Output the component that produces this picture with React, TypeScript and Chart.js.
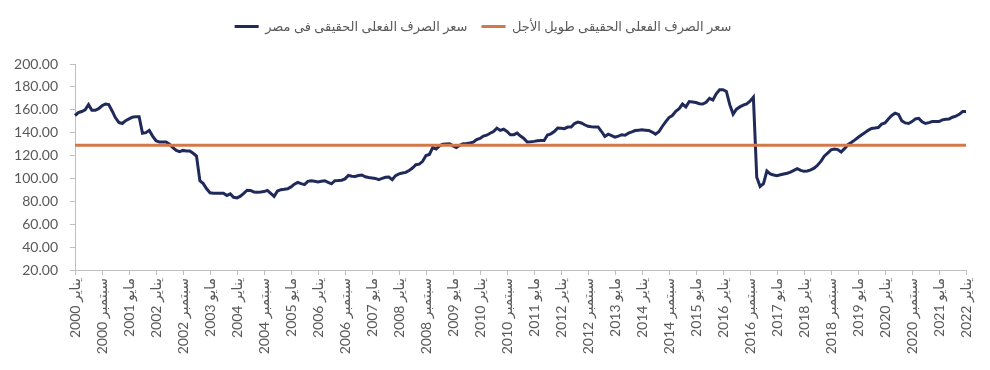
import React, { useEffect, useRef } from "react";
import { Chart, registerables } from "chart.js";

Chart.register(...registerables);

const monthNames = ["يناير", "فبراير", "مارس", "أبريل", "مايو", "يونيو", "يوليو", "أغسطس", "سبتمبر", "أكتوبر", "نوفمبر", "ديسمبر"];
const startYear = 2000;
const monthCount = 265;

const legendEgypt = "سعر الصرف الفعلى الحقيقى فى مصر";
const legendLongTerm = "سعر الصرف الفعلى الحقيقى طويل الأجل";

const y2000 = [155, 157.5, 158.5, 160, 164.5, 159.5, 159.5, 161, 163.5, 165, 164.5, 159];
const y2001 = [153, 149, 148, 150.5, 152, 153.5, 154, 154, 139.5, 140, 142, 137];
const y2002 = [133, 131.8, 131.8, 131.8, 130, 127, 124.5, 123.5, 124.5, 124, 124, 122];
const y2003 = [119.5, 98, 95.5, 91, 87.5, 87, 87, 87, 87, 85, 86.5, 83.5];
const y2004 = [83, 84.5, 87, 89.7, 89.5, 88.2, 88, 88.2, 88.5, 89.6, 87, 84.3];
const y2005 = [89, 90.2, 90.5, 91, 92.6, 95, 96.6, 95.5, 94.6, 97.5, 98, 97.5];
const y2006 = [97, 97.5, 98, 96.5, 95.3, 98, 98.2, 98.5, 99.6, 102.7, 102, 101.7];
const y2007 = [102.5, 103, 101.5, 100.8, 100.4, 100, 99, 100, 101, 101.3, 99, 102.5];
const y2008 = [104, 104.8, 105.3, 107, 109.1, 112, 112.5, 115, 120, 121, 127, 125.7];
const y2009 = [128.5, 130, 130.2, 130.3, 128.5, 127.1, 129, 130.3, 130.6, 131, 131.7, 134];
const y2010 = [135, 137, 137.8, 139.5, 141, 144, 142, 143, 141, 138.2, 138.2, 139.6];
const y2011 = [137, 135, 131.8, 132, 132.4, 133, 133.2, 133.2, 138, 139, 141, 144];
const y2012 = [143.8, 143.5, 144.9, 145, 148, 149.2, 148.5, 146.9, 145.6, 145.2, 145, 145];
const y2013 = [141, 136.7, 138.7, 137.5, 136.1, 137, 138.2, 137.8, 139.6, 140.7, 141.9, 142.2];
const y2014 = [142.5, 142.2, 141.9, 140.5, 138.7, 140.8, 145.4, 149.5, 153.2, 155, 158.7, 161];
const y2015 = [165, 162.5, 167.2, 166.8, 166.3, 165.3, 165, 166.6, 170, 168.6, 174, 177.5];
const y2016 = [177.5, 176, 164.5, 156.2, 160.5, 162.5, 164, 165.2, 167.5, 171, 101, 93];
const y2017 = [95.5, 106.5, 104, 103, 102.4, 103.2, 103.9, 104.6, 105.5, 107, 108.5, 107];
const y2018 = [106.2, 106.5, 107.5, 109, 111.5, 114.9, 119.5, 122, 125, 125.7, 125.2, 123.1];
const y2019 = [126, 129.5, 131.4, 133.5, 135.8, 138, 140, 142, 143.6, 144, 144.5, 147.5];
const y2020 = [148.5, 152, 155, 157, 156, 150.3, 148.5, 148, 149.7, 152, 152.5, 149.5];
const y2021 = [148, 148.8, 149.7, 149.7, 149.7, 151.2, 151.8, 152, 153.5, 154.5, 156, 158.5];
const y2022 = [158.5];

const egyptReer = [
  ...y2000, ...y2001, ...y2002, ...y2003, ...y2004, ...y2005, ...y2006, ...y2007,
  ...y2008, ...y2009, ...y2010, ...y2011, ...y2012, ...y2013, ...y2014, ...y2015,
  ...y2016, ...y2017, ...y2018, ...y2019, ...y2020, ...y2021, ...y2022,
];

const longTermValue = 129;

const yMin = 20;
const yMax = 200;
const yStep = 20;
const labelEvery = 8;

const labels: string[] = [];
for (let i = 0; i < monthCount; i++) {
  const y = startYear + Math.floor(i / 12);
  labels.push(`${y} ${monthNames[i % 12]}`);
}
const longTerm = labels.map(() => longTermValue);

const fontFamily = "Lato, 'DejaVu Sans', sans-serif";

const legendSpacer = {
  id: "legendSpacer",
  beforeInit(chart: any) {
    const legend = chart.legend;
    if (!legend) return;
    const origFit = legend.fit;
    legend.fit = function () {
      origFit.call(this);
      this.height += 21;
    };
  },
};

export default function App() {
  const ref = useRef<HTMLCanvasElement>(null);
  useEffect(() => {
    if (!ref.current) return;
    const chart = new Chart(ref.current, {
      type: "line",
      data: {
        labels,
        datasets: [
          {
            label: legendEgypt,
            data: egyptReer,
            borderColor: "#1f2a5a",
            backgroundColor: "#1f2a5a",
            borderWidth: 3,
            pointRadius: 0,
            tension: 0,
            order: 1,
          },
          {
            label: legendLongTerm,
            data: longTerm,
            borderColor: "#d4784a",
            backgroundColor: "#d4784a",
            borderWidth: 3,
            pointRadius: 0,
            tension: 0,
            order: 0,
          },
        ],
      },
      plugins: [legendSpacer],
      options: {
        responsive: false,
        animation: false,
        layout: { padding: { left: 0, right: 24, top: 6, bottom: 0 } },
        plugins: {
          tooltip: { enabled: false },
          legend: {
            position: "top",
            labels: {
              usePointStyle: true,
              pointStyle: "line",
              pointStyleWidth: 24,
              boxHeight: 13,
              color: "#595959",
              font: { family: fontFamily, size: 13 },
              padding: 14,
              sort: (a: any, b: any) => a.datasetIndex - b.datasetIndex,
            },
          },
        },
        scales: {
          x: {
            type: "category",
            offset: false,
            border: { color: "#bfbfbf", width: 1 },
            grid: {
              drawOnChartArea: false,
              drawTicks: true,
              tickLength: 5,
              color: "#bfbfbf",
            },
            ticks: {
              autoSkip: false,
              maxRotation: 90,
              minRotation: 90,
              padding: 3,
              color: "#595959",
              font: { family: fontFamily, size: 14 },
              callback: (_v: any, i: number) => (i % labelEvery === 0 ? labels[i] : null),
            },
            afterFit: (scale: any) => {
              scale.height = 100;
            },
          },
          y: {
            min: yMin,
            max: yMax,
            border: { color: "#bfbfbf", width: 1 },
            grid: {
              drawOnChartArea: false,
              drawTicks: true,
              tickLength: 5,
              color: "#bfbfbf",
            },
            ticks: {
              stepSize: yStep,
              padding: 12,
              color: "#595959",
              font: { family: fontFamily, size: 14 },
              callback: (v: any) => Number(v).toFixed(2),
            },
            afterFit: (scale: any) => {
              scale.width = 75;
            },
          },
        },
      },
    });
    return () => chart.destroy();
  }, []);
  return (
    <div style={{ position: "absolute", left: 0, top: 0, width: 990, height: 370, background: "#fff" }}>
      <canvas ref={ref} width={990} height={370} style={{ display: "block" }} />
    </div>
  );
}
